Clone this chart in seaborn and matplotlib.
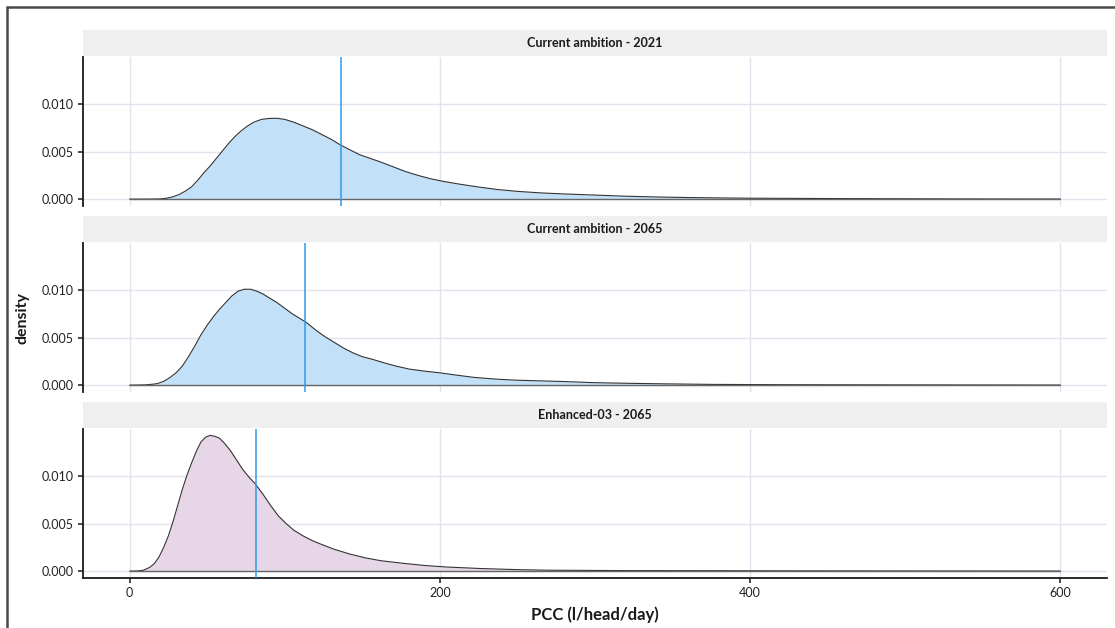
import matplotlib
matplotlib.use("Agg")
import matplotlib.pyplot as plt
from matplotlib.patches import Rectangle
import pandas as pd
import seaborn as sns

# Per-capita consumption density, one panel per scenario
panel_titles = ["Current ambition - 2021", "Current ambition - 2065", "Enhanced-03 - 2065"]

pcc_2021 = [0, 15, 20, 24, 28, 32, 36, 40, 44, 48, 52, 56, 60, 64, 68, 72, 76, 80, 85, 90, 95, 100,
            106, 112, 118, 124, 130, 136, 142, 148, 155, 162, 170, 178, 186, 194, 202, 212, 224,
            237, 250, 265, 280, 300, 320, 340, 360, 380, 400, 430, 460, 500, 550, 600]
dens_2021 = [0, 0.00001, 0.00003, 0.0001, 0.00025, 0.0005, 0.00085, 0.0013, 0.0020, 0.0028, 0.0035,
             0.0043, 0.0051, 0.0059, 0.0066, 0.0072, 0.0077, 0.0081, 0.0084, 0.0085, 0.00852, 0.0084,
             0.0081, 0.0077, 0.0073, 0.0068, 0.0063, 0.0057, 0.0052, 0.0047, 0.0043, 0.0039, 0.0034,
             0.0029, 0.0025, 0.00215, 0.00188, 0.0016, 0.0013, 0.00102, 0.00082, 0.00066, 0.00055,
             0.00043, 0.00031, 0.00023, 0.00017, 0.00013, 0.0001, 0.00008, 0.00006, 0.00004,
             0.00002, 0.00001]

pcc_2065 = [0, 10, 15, 18, 22, 26, 30, 34, 38, 42, 46, 50, 54, 58, 62, 66, 70, 74, 78, 82, 86, 90,
            95, 100, 105, 110, 114, 120, 126, 132, 138, 144, 150, 157, 164, 172, 180, 190, 200, 211,
            222, 235, 248, 265, 280, 300, 320, 344, 376, 420, 500, 600]
dens_2065 = [0, 0.00003, 0.0001, 0.00017, 0.0004, 0.0008, 0.0013, 0.0020, 0.0030, 0.0041, 0.0053,
             0.0063, 0.0072, 0.0080, 0.0087, 0.0094, 0.0099, 0.0101, 0.0101, 0.0099, 0.0096, 0.0092,
             0.0087, 0.0081, 0.0075, 0.0070, 0.0066, 0.0058, 0.0051, 0.0045, 0.0039, 0.0034, 0.0030,
             0.0027, 0.00235, 0.0020, 0.0017, 0.00148, 0.0013, 0.00105, 0.00082, 0.00065, 0.00053,
             0.00045, 0.00038, 0.00026, 0.0002, 0.00014, 0.00008, 0.00005, 0.00003, 0.00001]

pcc_enh = [0, 5, 9, 13, 16, 19, 22, 25, 28, 31, 34, 37, 40, 43, 46, 49, 52, 55, 58, 61, 65, 69, 73,
           77, 81, 86, 91, 96, 101, 106, 112, 118, 124, 132, 142, 152, 162, 175, 190, 205, 226, 250,
           270, 320, 400, 500, 600]
dens_enh = [0, 0.00002, 0.0001, 0.0004, 0.0008, 0.0015, 0.0025, 0.0037, 0.0052, 0.0069, 0.0086,
            0.0101, 0.0114, 0.0126, 0.0136, 0.0141, 0.0143, 0.0142, 0.0140, 0.0135, 0.0127, 0.0117,
            0.0107, 0.0099, 0.0092, 0.0081, 0.0069, 0.0058, 0.0050, 0.0043, 0.0037, 0.0032, 0.0028,
            0.0023, 0.0018, 0.0014, 0.0011, 0.00085, 0.0006, 0.00043, 0.00028, 0.00016, 0.0001,
            0.00006, 0.00004, 0.00002, 0.00001]

mean_pcc = [136.6, 113.4, 81.2]
fill_colors = ["#C2E1F8", "#C2E1F8", "#E7D6E8"]

x_ticks = [0, 200, 400, 600]
y_ticks = [0.000, 0.005, 0.010]
y_tick_labels = ["0.000", "0.005", "0.010"]

series = [(pcc_2021, dens_2021), (pcc_2065, dens_2065), (pcc_enh, dens_enh)]

sns.set_theme(style="white")
plt.rcParams["font.family"] = ["Lato", "DejaVu Sans"]

W, H = 1115, 628
fig = plt.figure(figsize=(W / 100, H / 100), dpi=100)
fig.patch.set_facecolor("white")

# outer frame (left and top edges)
fig.patches.append(Rectangle((7 / W, -0.5), 2.0, 1.5 - 6.5 / H, transform=fig.transFigure,
                             fill=False, edgecolor="#4a4a4a", linewidth=1.8, zorder=0))

grid_col = "#E4E2EE"
left_px, right_px = 83, 1107
panel_bottoms_px = [206, 392, 578]
panel_h_px = 149
strip_h_px = 27

axes = []
for i, (title, (xs, ds)) in enumerate(zip(panel_titles, series)):
    bottom = 1 - panel_bottoms_px[i] / H
    ax = fig.add_axes([left_px / W, bottom, (right_px - left_px) / W, panel_h_px / H])
    axes.append(ax)
    df = pd.DataFrame({"pcc": xs, "density": ds})
    ax.fill_between(df["pcc"], df["density"], 0, color=fill_colors[i], linewidth=0, zorder=2)
    sns.lineplot(data=df, x="pcc", y="density", ax=ax, color="#333333", linewidth=0.8,
                 zorder=3, estimator=None, sort=False)
    ax.plot([xs[0], xs[-1]], [0, 0], color="#666666", linewidth=1.0, zorder=3)
    ax.axvline(mean_pcc[i], color="#2D9BEA", linewidth=1.1, zorder=4)

    ax.set_xlim(-30, 630)
    ax.set_ylim(-0.00072, 0.01497)
    ax.set_xticks(x_ticks)
    ax.set_yticks(y_ticks)
    ax.set_yticklabels(y_tick_labels)
    ax.grid(True, color=grid_col, linewidth=1.0, zorder=0)
    ax.set_axisbelow(True)
    for s in ["top", "right"]:
        ax.spines[s].set_visible(False)
    ax.spines["left"].set_color("#1a1a1a")
    ax.spines["left"].set_linewidth(1.3)
    ax.tick_params(axis="y", which="both", left=True, length=3.5, width=1.1, color="#1a1a1a",
                   labelsize=9, labelcolor="#222222", pad=3)
    if i < 2:
        ax.spines["bottom"].set_visible(False)
        ax.tick_params(axis="x", bottom=False, labelbottom=False)
    else:
        ax.spines["bottom"].set_color("#1a1a1a")
        ax.spines["bottom"].set_linewidth(1.3)
        ax.tick_params(axis="x", bottom=True, length=3.5, width=1.1, color="#1a1a1a",
                       labelsize=9, labelcolor="#222222", pad=3)
    ax.set_xlabel("")
    ax.set_ylabel("")

    # facet strip
    sh = strip_h_px / panel_h_px
    ax.add_patch(Rectangle((0, 1.005), 1, sh - 0.005, transform=ax.transAxes, facecolor="#EFEFEF",
                           edgecolor="none", clip_on=False, zorder=1))
    ax.text(0.5, 1 + sh / 2 + 0.003, title, transform=ax.transAxes, ha="center", va="center",
            fontsize=9, fontweight="bold", color="#1a1a1a")

axes[-1].set_xlabel("PCC (l/head/day)", fontsize=12, fontweight="bold", color="#1a1a1a", labelpad=5)
fig.text(22 / W, 1 - 318 / H, "density", rotation=90, ha="center", va="center",
         fontsize=11.5, fontweight="bold", color="#1a1a1a")

fig.savefig("out.png", dpi=100, facecolor="white")
